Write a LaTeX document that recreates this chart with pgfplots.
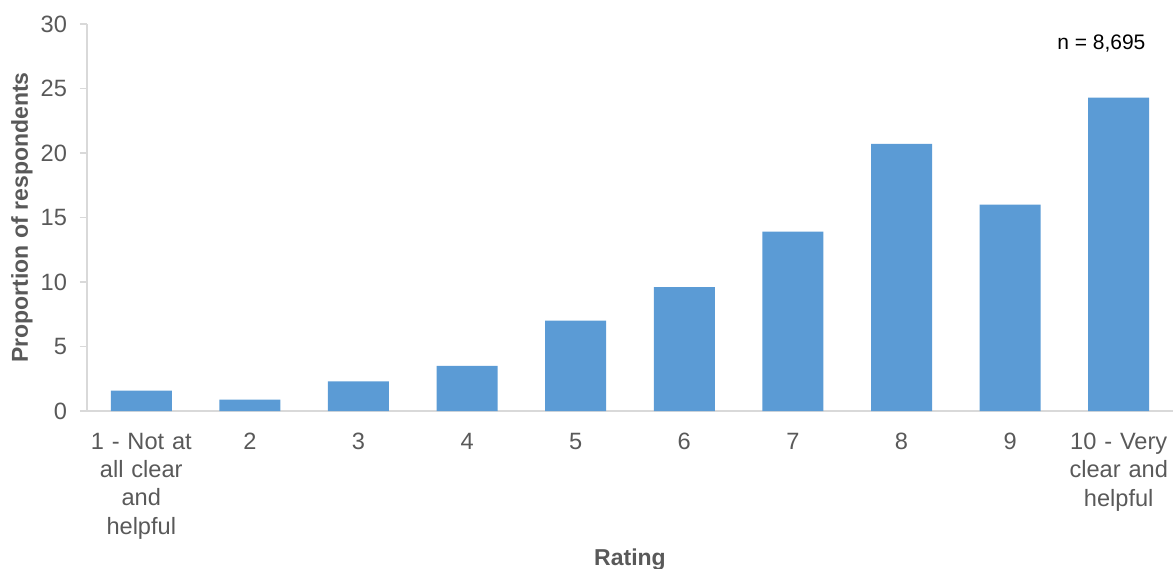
\documentclass[border=0pt]{standalone}
\usepackage{pgfplots}
\pgfplotsset{compat=1.18}
\usepackage{fontspec}
\setmainfont{Liberation Sans}
\definecolor{barblue}{HTML}{5B9BD5}
\definecolor{txtgray}{HTML}{595959}
\definecolor{axgray}{HTML}{D9D9D9}
\begin{document}
\begin{tikzpicture}
\begin{axis}[
  scale only axis, width=543pt, height=193.5pt,
  xmin=-0.5, xmax=9.5, ymin=0, ymax=30,
  ytick={0,5,10,15,20,25,30},
  xtick={0,1,2,3,4,5,6,7,8,9},
  xticklabels={{1 - Not at\\all clear\\and\\helpful},2,3,4,5,6,7,8,9,{10 - Very\\clear and\\helpful}},
  axis x line*=bottom, axis y line*=left,
  axis line style={-, draw=axgray, line width=0.8pt},
  major x tick style={draw=none},
  major y tick style={draw=axgray, line width=0.8pt},
  tick align=outside, major tick length=3.5pt,
  /pgf/number format/assume math mode=true,
  tick label style={font=\fontsize{11.8}{14.15}\selectfont, text=txtgray},
  xticklabel style={align=center, text width=64pt, yshift=-4pt},
  yticklabel style={xshift=-3pt},
  ylabel={\textbf{Proportion of respondents}},
  xlabel={\textbf{Rating}},
  label style={font=\fontsize{11.5}{13}\selectfont, text=txtgray},
  ylabel style={at={(axis description cs:-0.0599,0.5)}, anchor=center},
  xlabel style={at={(axis description cs:0.5,-0.385)}, anchor=center},
  clip=false,
]
\addplot[ybar, bar width=30.5pt, fill=barblue, draw=none] coordinates {
(0,1.57) (1,0.88) (2,2.3) (3,3.5) (4,7.0) (5,9.6) (6,13.9) (7,20.7) (8,16.0) (9,24.3)
};
\node[font=\fontsize{10.5}{12}\selectfont, text=black] at (axis cs:8.84,28.5) {n = 8,695};
\coordinate (bl) at (axis description cs:-0.0801,-0.408);
\coordinate (tr) at (axis description cs:1.00276,1.062);
\end{axis}
\pgfresetboundingbox
\path[use as bounding box] (bl) rectangle (tr);
\end{tikzpicture}
\end{document}
